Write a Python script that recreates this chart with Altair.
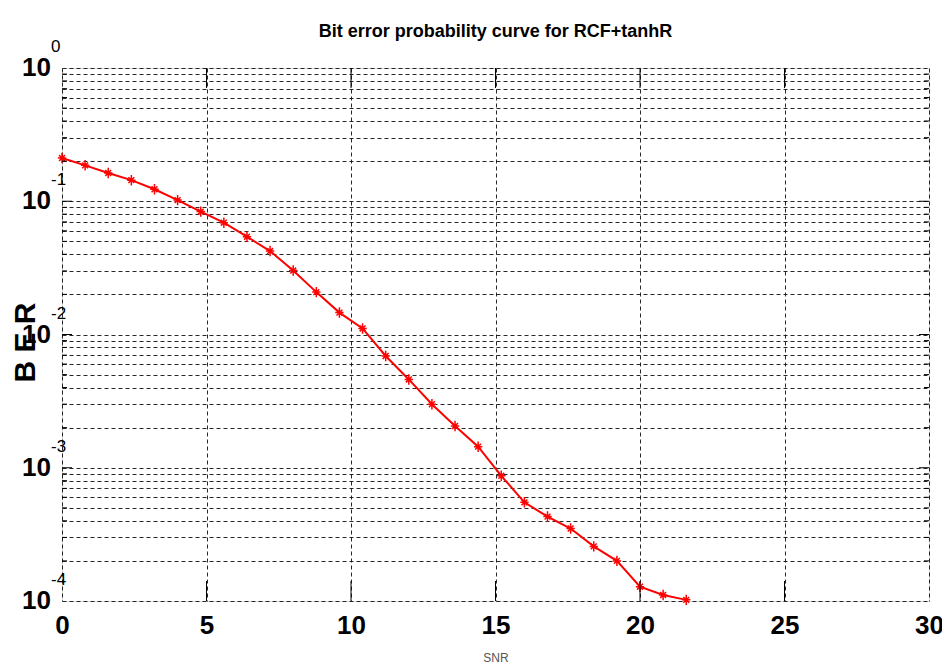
import altair as alt
import pandas as pd

# ---- data ----
snr = [0.0, 0.8, 1.6, 2.4, 3.2, 4.0, 4.8, 5.6, 6.4, 7.2, 8.0, 8.8, 9.6, 10.4,
       11.2, 12.0, 12.8, 13.6, 14.4, 15.2, 16.0, 16.8, 17.6, 18.4, 19.2, 20.0,
       20.8, 21.6]
ber = [0.211, 0.186, 0.163, 0.144, 0.123, 0.102, 0.0836, 0.069, 0.0542, 0.0423,
       0.0302, 0.0208, 0.0146, 0.0111, 0.0069, 0.0046, 0.0030, 0.00206,
       0.00144, 0.00087, 0.00055, 0.00043, 0.00035, 0.000257, 0.000200,
       0.000128, 0.000111, 0.000102]

x_tick_values = [0, 5, 10, 15, 20, 25, 30]
x_inner_ticks = [5, 10, 15, 20, 25]
decades = [1, 0.1, 0.01, 0.001, 0.0001]
decade_base = ["10", "10", "10", "10", "10"]
decade_exp = ["0", "-1", "-2", "-3", "-4"]
inner_decades = [0.1, 0.01, 0.001]
minor_mult = [2, 3, 4, 5, 6, 7, 8, 9]
minor_decades = [0.1, 0.01, 0.001, 0.0001]

y_minor = [m * d for d in minor_decades for m in minor_mult]
y_grid_values = sorted(decades + y_minor)

W, H = 867, 533
FONT = "Liberation Sans Narrow, Arial Narrow, Liberation Sans"

curve = pd.DataFrame({"snr": snr, "ber": ber})
xt = pd.DataFrame({"snr": x_inner_ticks})
ymaj = pd.DataFrame({"ber": inner_decades})
ymin = pd.DataFrame({"ber": y_minor})
ylab = pd.DataFrame({"ber": decades, "base": decade_base, "exp": decade_exp})

xscale = alt.Scale(domain=[0, 30], nice=False, zero=False)
yscale = alt.Scale(type="log", domain=[0.0001, 1], nice=False)

x_axis = alt.Axis(
    values=x_tick_values, title="SNR", grid=True, gridDash=[4, 3],
    gridColor="#111111", gridOpacity=0.9, gridWidth=1, ticks=False,
    domain=False, labelFont=FONT, labelFontSize=26, labelFontWeight="bold",
    labelColor="black", labelPadding=11, labelFlush=False,
    titleFont=FONT, titleFontSize=12,
    titleFontWeight="normal", titleColor="#555555",
    titleY=56, titleBaseline="middle",
)
y_axis = alt.Axis(
    values=y_grid_values, title="B E R", grid=True, gridDash=[4, 3],
    gridColor="#111111", gridOpacity=0.9, gridWidth=1, ticks=False,
    domain=False, labels=False, titleFont=FONT, titleFontSize=30,
    titleFontWeight="bold", titleColor="black", titleAngle=-90,
    titleX=-37, titleY=274, titleAlign="center", titleBaseline="middle",
)
x_enc = alt.X("snr:Q", scale=xscale, axis=x_axis)
y_enc = alt.Y("ber:Q", scale=yscale, axis=y_axis)

line = alt.Chart(curve).mark_line(color="#ff0000", strokeWidth=2).encode(
    x=x_enc, y=y_enc
)
points = alt.Chart(curve).mark_point(
    shape="M-1,0L1,0M0,-1.25L0,1.25M-0.7,-0.7L0.7,0.7M-0.7,0.7L0.7,-0.7",
    filled=False, color="#ff0000", strokeWidth=1.5, size=70, opacity=1,
).encode(x=x_enc, y=y_enc)

tick_style = dict(color="black", strokeWidth=1)
xt_bottom = alt.Chart(xt).mark_rule(**tick_style).encode(
    x=x_enc, y=alt.value(H), y2=alt.value(H - 20)
)
xt_top = alt.Chart(xt).mark_rule(**tick_style).encode(
    x=x_enc, y=alt.value(0), y2=alt.value(20)
)
ymaj_left = alt.Chart(ymaj).mark_rule(**tick_style).encode(
    y=y_enc, x=alt.value(0), x2=alt.value(10)
)
ymaj_right = alt.Chart(ymaj).mark_rule(**tick_style).encode(
    y=y_enc, x=alt.value(W - 10), x2=alt.value(W)
)
ymin_left = alt.Chart(ymin).mark_rule(**tick_style).encode(
    y=y_enc, x=alt.value(0), x2=alt.value(5)
)
ymin_right = alt.Chart(ymin).mark_rule(**tick_style).encode(
    y=y_enc, x=alt.value(W - 5), x2=alt.value(W)
)

lab_base = alt.Chart(ylab).mark_text(
    font=FONT, fontSize=26, fontWeight="bold", color="black",
    align="right", baseline="middle",
).encode(y=y_enc, x=alt.value(-11), text="base:N")
lab_exp = alt.Chart(ylab).mark_text(
    font=FONT, fontSize=17, fontWeight="normal", color="black",
    align="left", baseline="middle", dy=-21,
).encode(y=y_enc, x=alt.value(-11), text="exp:N")

chart = alt.layer(
    line, points, ymin_left, ymin_right, ymaj_left, ymaj_right, xt_bottom,
    xt_top, lab_base, lab_exp,
).properties(
    width=W, height=H,
    title=alt.TitleParams(
        "Bit error probability  curve for RCF+tanhR", font=FONT, fontSize=18,
        fontWeight="bold", color="black", anchor="middle", frame="group",
        offset=1, baseline="alphabetic", dy=18,
    ),
    autosize=alt.AutoSizeParams(type="none"),
    padding={"left": 62, "top": 68, "right": 13, "bottom": 68},
).configure_view(
    stroke="black", strokeWidth=1.2
).configure(background="white")

chart.save("out.html", embed_options={"renderer": "svg", "actions": False})
